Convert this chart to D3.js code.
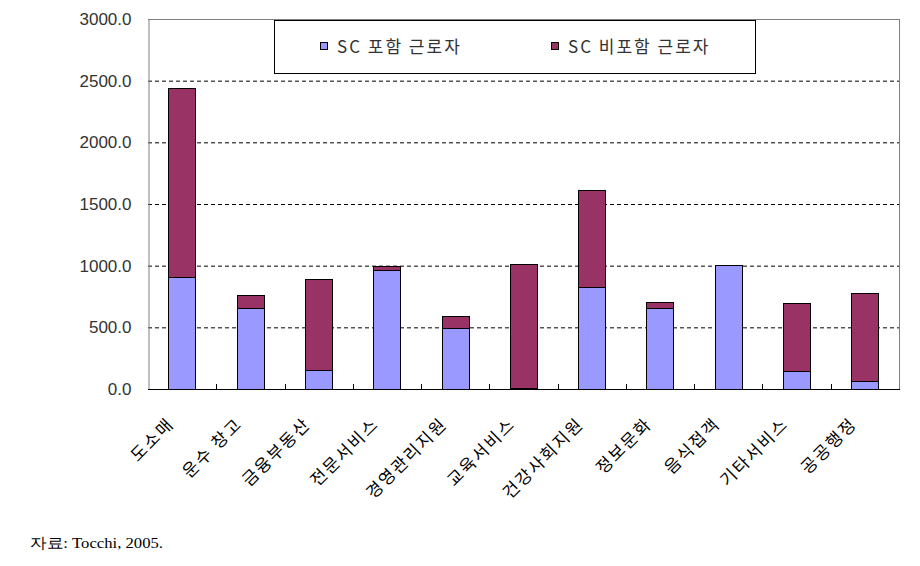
<!DOCTYPE html>
<html><head><meta charset="utf-8">
<script src="https://cdnjs.cloudflare.com/ajax/libs/d3/7.8.5/d3.min.js"></script>
<style>body{margin:0;background:#fff}svg{display:block}</style>
</head><body>
<script>
const categories = ["도소매","운수 창고","금융부동산","전문서비스","경영관리지원","교육서비스","건강사회지원","정보문화","음식접객","기타서비스","공공행정"];
const scIncluded = [906,660,157,968,497,5,830,660,1003,149,65];
const scExcluded = [1532,100,732,27,92,1006,781,43,0,546,711];
const seriesNames = ["SC 포함 근로자","SC 비포함 근로자"];
const seriesColors = ["#9999FF","#993366"];
const yTicks = [0,500,1000,1500,2000,2500,3000];
const sourceText = "자료: Tocchi, 2005.";

const W=920,H=566;
const L=148,R=899,T=19,B=389;
const svg=d3.select("body").append("svg").attr("width",W).attr("height",H);

const x=d3.scaleBand().domain(categories).range([L,R]).paddingInner(0.6).paddingOuter(0.3);
const y=d3.scaleLinear().domain([0,3000]).range([B,T]);

// gridlines
svg.append("g").selectAll("line").data(yTicks.filter(d=>d>0&&d<3000)).join("line")
  .attr("x1",L).attr("x2",R).attr("y1",d=>y(d)+0.5).attr("y2",d=>y(d)+0.5)
  .attr("stroke","#000").attr("stroke-dasharray","4,3").attr("stroke-width",1);

// border top/right
svg.append("line").attr("x1",L).attr("x2",R).attr("y1",T+0.5).attr("y2",T+0.5).attr("stroke","#808080");
svg.append("line").attr("x1",R+0.5).attr("x2",R+0.5).attr("y1",T).attr("y2",B).attr("stroke","#808080");

// stacked bars
const rows=categories.map((c,i)=>({cat:c,a:scIncluded[i],b:scExcluded[i]}));
const stack=d3.stack().keys(["a","b"])(rows);
svg.append("g").selectAll("g").data(stack).join("g")
  .attr("fill",(d,i)=>seriesColors[i])
  .selectAll("rect").data(d=>d.filter(p=>p[1]-p[0]>0)).join("rect")
  .attr("x",d=>Math.round(x(d.data.cat))+0.5)
  .attr("width",Math.round(x.bandwidth()))
  .attr("y",d=>Math.round(y(d[1]))+0.5)
  .attr("height",d=>Math.max(0,Math.round(y(d[0]))-Math.round(y(d[1]))))
  .attr("stroke","#000").attr("stroke-width",1);

// y axis
const yAxis=d3.axisLeft(y).tickValues(yTicks).tickFormat(d3.format(".1f")).tickSize(0).tickPadding(17);
const ya=svg.append("g").attr("transform",`translate(${L+0.5},0)`).call(yAxis);
ya.select(".domain").attr("stroke","#808080");
ya.selectAll("text").attr("font-family","Liberation Sans, Arial, sans-serif").attr("font-size",17).attr("fill","#333");

// x axis
const step=(R-L)/categories.length;
svg.append("g").selectAll("line").data(d3.range(1,categories.length)).join("line")
  .attr("x1",d=>Math.round(L+d*step)+0.5).attr("x2",d=>Math.round(L+d*step)+0.5)
  .attr("y1",B-5).attr("y2",B).attr("stroke","#000");
svg.append("line").attr("x1",L).attr("x2",R+1).attr("y1",B+0.5).attr("y2",B+0.5).attr("stroke","#000");

svg.append("g").selectAll("text").data(categories).join("text")
  .attr("transform",d=>`translate(${x(d)+x.bandwidth()/2-7},425) rotate(-45)`)
  .attr("text-anchor","end")
  .attr("font-family","Noto Sans CJK KR, sans-serif").attr("font-size",17).attr("letter-spacing",2).attr("fill","#000")
  .text(d=>d);

// legend
const lg=svg.append("g");
lg.append("rect").attr("x",274.5).attr("y",20.5).attr("width",481).attr("height",53).attr("fill","#fff").attr("stroke","#000");
const lx=[320,551];
seriesNames.forEach((n,i)=>{
  lg.append("rect").attr("x",lx[i]+0.5).attr("y",42.5).attr("width",7).attr("height",7).attr("fill",seriesColors[i]).attr("stroke","#000");
  lg.append("text").attr("x",lx[i]+17).attr("y",53).attr("font-family","Noto Sans CJK KR, sans-serif").attr("font-size",17).attr("letter-spacing",2).attr("fill","#333").text(n);
});

// source
svg.append("text").attr("x",30).attr("y",548).attr("font-family","Liberation Serif, serif").attr("font-size",15)
  .attr("textLength",133).attr("lengthAdjust","spacingAndGlyphs").attr("fill","#000").text(sourceText);
</script>
</body></html>
